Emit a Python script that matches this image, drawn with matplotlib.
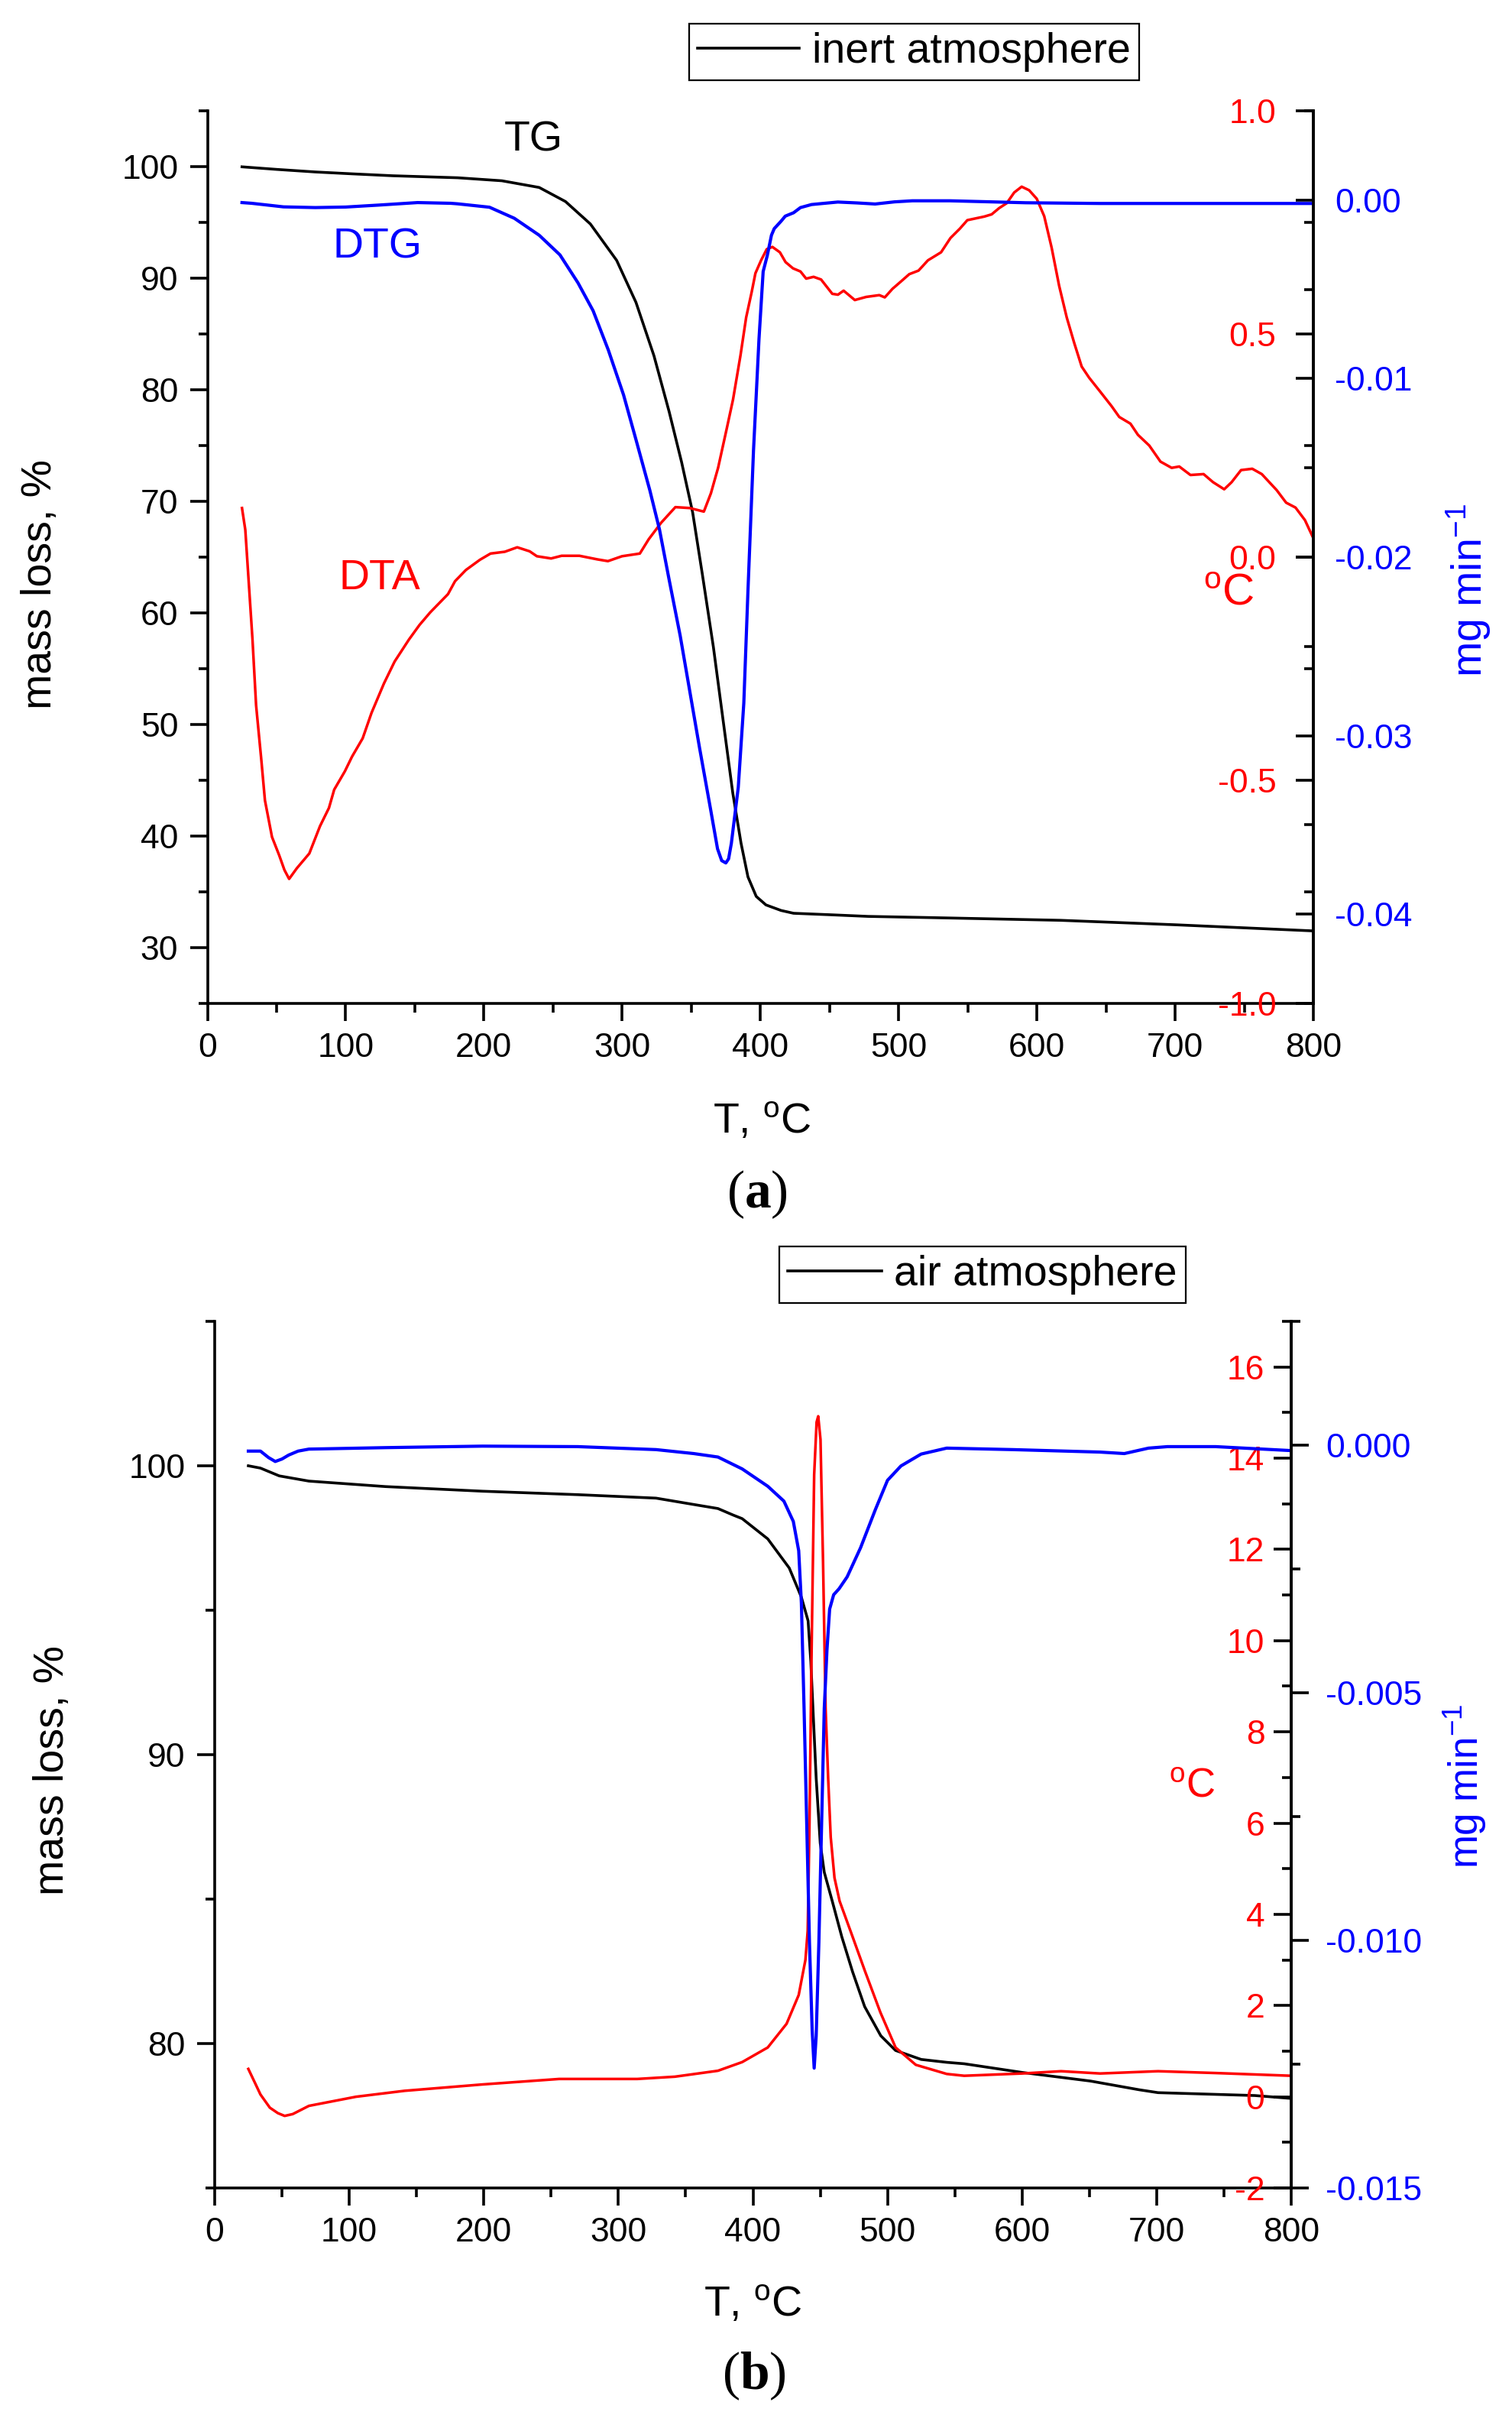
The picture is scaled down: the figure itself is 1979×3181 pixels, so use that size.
import matplotlib
matplotlib.use('Agg')
import matplotlib.pyplot as plt
from matplotlib.ticker import MultipleLocator, FixedLocator, FormatStrFormatter
from matplotlib.lines import Line2D

plt.rcParams['font.family'] = ['Liberation Sans', 'DejaVu Sans']
plt.rcParams['mathtext.fontset'] = 'custom'
plt.rcParams['mathtext.rm'] = 'Liberation Sans'
plt.rcParams['mathtext.it'] = 'Liberation Sans:italic'
plt.rcParams['mathtext.bf'] = 'Liberation Serif:bold'

# ---- panel (a): inert atmosphere ----
temp_tg_a = [25, 50, 78, 105, 134, 160, 181, 213, 240, 259, 277, 296, 310, 323, 334, 343, 351, 358,
             366, 373, 380, 386, 391, 397, 404, 415, 424, 450, 478, 520, 617, 700, 800]
tg_a = [99.98, 99.75, 99.52, 99.35, 99.18, 99.08, 99.0, 98.73, 98.13, 96.87, 94.86, 91.6, 87.83,
        83.05, 78.03, 73.51, 69.0, 63.47, 56.94, 50.4, 43.88, 39.36, 36.34, 34.59, 33.83, 33.33,
        33.08, 32.95, 32.8, 32.7, 32.45, 32.05, 31.5]

temp_dtg_a = [25, 32, 55, 78, 100, 124, 152, 176, 181, 204, 222, 240, 255, 268, 279, 290, 301, 310,
              320, 327, 334, 342, 349, 356, 364, 369, 372, 375, 377, 379, 384, 388, 391, 395, 399,
              402, 405, 408, 410, 415, 418, 424, 429, 437, 445, 456, 470, 483, 497, 510, 537, 592,
              646, 800]
dtg_a = [-0.00014, -0.00018, -0.00038, -0.00042, -0.00039, -0.00028, -0.00014, -0.00018, -0.00021,
         -0.0004, -0.00102, -0.00197, -0.00307, -0.00463, -0.0062, -0.0084, -0.01091, -0.01342,
         -0.01625, -0.01845, -0.02127, -0.02441, -0.02755, -0.03069, -0.03414, -0.03634, -0.0370,
         -0.03713, -0.0369, -0.03603, -0.03289, -0.02818, -0.0219, -0.01405, -0.00777, -0.004,
         -0.0031, -0.00197, -0.0016, -0.00118, -0.0009, -0.00071, -0.00042, -0.00025, -0.00019,
         -0.00011, -0.00016, -0.00022, -0.0001, -0.00004, -0.00004, -0.00015, -0.00019, -0.00019]

temp_dta_a = [25, 27.4, 30, 32.6, 35.2, 39, 41.6, 46.7, 51.9, 55.7, 59.1, 64.7, 73.7, 81.4, 87.9, 91.7,
              99.4, 104.6, 112.3, 118.7, 127.7, 135.4, 145.7, 153.4, 161.1, 174, 179.1, 186.9, 197.1,
              204.8, 215.1, 224.1, 233.1, 238.3, 248.6, 256.2, 269.1, 282, 289.7, 299.9, 312.8, 319.2,
              328.2, 338.5, 348.8, 359.1, 364.2, 369.4, 375.8, 380.2, 385.6, 389.7, 393.7, 396.4,
              400.5, 404.6, 408.7, 414.1, 418.2, 423.6, 429, 433.1, 438.5, 443.9, 452, 456.1, 460.2,
              468.3, 476.5, 486, 490, 495.5, 502.2, 507.7, 514.4, 521.2, 530.7, 537.5, 544.3, 549.7,
              561.9, 567.3, 572.7, 578.2, 583.6, 589, 594.4, 599.9, 605.3, 610.7, 616.1, 621.6, 627,
              632.4, 637.8, 646, 654.1, 659.6, 667.7, 673.1, 681.3, 689.4, 697.5, 703, 711.1, 720.6,
              727.4, 735.5, 740.9, 747.7, 755.8, 762.7, 773.5, 780.3, 787.1, 793.9, 799.3]
dta_a = [0.110, 0.061, -0.062, -0.185, -0.332, -0.455, -0.545, -0.627, -0.668, -0.701, -0.721, -0.697,
         -0.664, -0.603, -0.562, -0.521, -0.480, -0.447, -0.406, -0.349, -0.283, -0.234, -0.185,
         -0.152, -0.124, -0.083, -0.054, -0.029, -0.006, 0.008, 0.012, 0.022, 0.013, 0.002, -0.003,
         0.003, 0.003, -0.005, -0.009, 0.002, 0.008, 0.040, 0.077, 0.112, 0.110, 0.102, 0.143, 0.200,
         0.290, 0.353, 0.452, 0.537, 0.594, 0.636, 0.665, 0.690, 0.695, 0.683, 0.661, 0.647, 0.640,
         0.624, 0.628, 0.622, 0.590, 0.588, 0.597, 0.576, 0.583, 0.587, 0.582, 0.601, 0.619, 0.634,
         0.642, 0.665, 0.683, 0.715, 0.736, 0.755, 0.763, 0.768, 0.782, 0.793, 0.817, 0.830, 0.822,
         0.803, 0.764, 0.693, 0.608, 0.537, 0.480, 0.427, 0.402, 0.370, 0.338, 0.314, 0.299, 0.274,
         0.250, 0.214, 0.200, 0.203, 0.184, 0.186, 0.168, 0.152, 0.168, 0.195, 0.198, 0.186, 0.150,
         0.122, 0.111, 0.083, 0.047]

# ---- panel (b): air atmosphere ----
temp_tg_b = [25, 34, 48, 70, 127, 199, 270, 328, 356, 374, 385, 392, 411, 427, 436, 441, 443, 445, 447,
             450, 453, 459, 466, 474, 483, 495, 506, 525, 544, 557, 600, 651, 687, 701, 773, 800]
tg_b = [100.0, 99.92, 99.65, 99.47, 99.28, 99.12, 99.0, 98.88, 98.66, 98.52, 98.3, 98.17, 97.47, 96.46,
        95.45, 94.63, 93.23, 91.19, 89.18, 86.94, 85.93, 84.92, 83.7, 82.49, 81.28, 80.27, 79.76,
        79.45, 79.35, 79.3, 79.0, 78.7, 78.4, 78.3, 78.2, 78.1]

temp_dtg_b = [25, 34, 40, 45, 50, 55, 62, 70, 127, 199, 270, 328, 356, 374, 392, 411, 423, 430, 434,
              436, 438, 440, 442, 444, 445.5, 447, 449, 451, 453, 455, 457, 460, 464, 470, 480, 491,
              500, 510, 525, 544, 593, 658, 676, 694, 708, 744, 800]
dtg_b = [-0.00012, -0.00012, -0.00025, -0.00033, -0.00028, -0.0002, -0.00012, -0.00008, -0.00005,
         -0.00002, -0.00003, -0.00009, -0.00017, -0.00024, -0.00048, -0.00083, -0.00113, -0.00154,
         -0.00213, -0.00319, -0.00532, -0.00768, -0.01004, -0.01181, -0.01258, -0.01193, -0.01004,
         -0.00768, -0.00532, -0.00414, -0.00331, -0.00302, -0.0029, -0.00266, -0.00207, -0.0013,
         -0.00071, -0.00042, -0.00018, -0.00006, -0.00009, -0.00014, -0.00017, -0.00006, -0.00003,
         -0.00003, -0.00011]

temp_dta_b = [25, 30, 34, 41, 47, 52, 58, 70, 91, 105, 141, 199, 256, 314, 342, 374, 392, 411, 425,
              434, 439, 440.7, 442, 443.6, 445.5, 447.3, 448.5, 450.2, 452.1, 454, 455.9, 457.8,
              460.6, 464.4, 473.9, 483.3, 494.7, 506, 521, 544, 557, 600, 629, 658, 701, 744, 800]
dta_b = [0.61, 0.3, 0.05, -0.24, -0.36, -0.42, -0.38, -0.2, -0.08, 0.0, 0.13, 0.27, 0.39, 0.39, 0.44,
         0.57, 0.76, 1.08, 1.6, 2.23, 3.0, 3.64, 5.95, 9.8, 13.64, 14.79, 14.92, 14.41, 11.72, 8.51,
         6.98, 5.69, 4.80, 4.29, 3.52, 2.75, 1.85, 1.08, 0.70, 0.50, 0.46, 0.51, 0.56, 0.51, 0.56,
         0.52, 0.46]

W, H = 1979, 3181
fig = plt.figure(figsize=(W / 100, H / 100), dpi=100)
LW_AX = 2.6


def rect_px(left, top, right, bottom):
    return [left / W, 1 - bottom / H, (right - left) / W, (bottom - top) / H]


def text_px(x, y, s, **kw):
    fig.text(x / W, 1 - y / H, s, ha='center', va='center', **kw)


def make_panel(rect, ylim, yticks, rlim, rticks, rminor, rfmt, rpad, blim, bticks, bminor, bfmt,
               bdir, bpad):
    ax = fig.add_axes(rect)
    ax_r = ax.twinx()
    ax_b = ax.twinx()
    for a in (ax, ax_r, ax_b):
        a.set_xlim(0, 800)
        a.spines['top'].set_visible(False)
        for s in a.spines.values():
            s.set_linewidth(LW_AX)
    for a in (ax_r, ax_b):
        a.spines['left'].set_visible(False)
        a.spines['bottom'].set_visible(False)
    ax.spines['right'].set_visible(False)

    ax.xaxis.set_major_locator(MultipleLocator(100))
    ax.xaxis.set_minor_locator(MultipleLocator(50))
    ax.set_ylim(*ylim)
    ax.yaxis.set_major_locator(FixedLocator(yticks))
    ax.yaxis.set_minor_locator(MultipleLocator(5))
    ax.tick_params(which='major', direction='out', length=16.5, width=LW_AX, labelsize=32, pad=11)
    ax.tick_params(which='minor', direction='out', length=8.5, width=LW_AX)

    ax_r.set_ylim(*rlim)
    ax_r.yaxis.set_major_locator(FixedLocator(rticks))
    ax_r.yaxis.set_minor_locator(MultipleLocator(rminor))
    ax_r.yaxis.set_major_formatter(FormatStrFormatter(rfmt))
    ax_r.tick_params(axis='y', which='major', direction='in', length=16.5, width=LW_AX,
                     labelsize=32, labelcolor='#ff0000', pad=rpad)
    ax_r.tick_params(axis='y', which='minor', direction='in', length=8.5, width=LW_AX)
    for lab in ax_r.get_yticklabels():
        lab.set_horizontalalignment('right')

    ax_b.set_ylim(*blim)
    ax_b.yaxis.set_major_locator(FixedLocator(bticks))
    ax_b.yaxis.set_minor_locator(MultipleLocator(bminor))
    ax_b.yaxis.set_major_formatter(FormatStrFormatter(bfmt))
    ax_b.tick_params(axis='y', which='major', direction=bdir, length=16.5, width=LW_AX,
                     labelsize=32, labelcolor='#0000ff', pad=bpad)
    ax_b.tick_params(axis='y', which='minor', direction=bdir, length=8.5, width=LW_AX)
    return ax, ax_r, ax_b


def add_legend(ax, label, cx, cy, handlelength):
    leg = ax.legend(handles=[Line2D([], [], color='black', lw=2.6)], labels=[label],
                    loc='center', bbox_to_anchor=(cx / W, 1 - cy / H), bbox_transform=fig.transFigure,
                    fontsize=40, frameon=True, fancybox=False, edgecolor='black', framealpha=1,
                    handlelength=handlelength, handletextpad=0.3, borderpad=0.2)
    leg.get_frame().set_linewidth(1.6)


# panel (a)
ax, ax_r, ax_b = make_panel(rect_px(271.5, 145, 1719, 1313), (25, 105), [30, 40, 50, 60, 70, 80, 90, 100],
                            (-1, 1), [-1, -0.5, 0, 0.5, 1], 0.25, '%.1f', -35,
                            (-0.045, 0.005), [-0.04, -0.03, -0.02, -0.01, 0.0], 0.005, '%.2f', 'in', 20)
ax.plot(temp_tg_a, tg_a, color='black', lw=2.6)
ax_r.plot(temp_dta_a, dta_a, color='#ff0000', lw=2.5)
ax_b.plot(temp_dtg_a, dtg_a, color='#0000ff', lw=3.0)
add_legend(ax, 'inert atmosphere', 1196.5, 68, 2.4)

text_px(698, 184, 'TG', fontsize=40, color='black')
text_px(494, 323, 'DTG', fontsize=40, color='#0000ff')
text_px(497, 757, 'DTA', fontsize=40, color='#ff0000')
text_px(53, 765, 'mass loss, %', fontsize=40, rotation=90)
text_px(997, 1469, r'T, $^{\mathrm{o}}$C', fontsize=40)
text_px(1608, 776, r'$^{\mathrm{o}}$C', fontsize=42, color='#ff0000')
text_px(1922, 773, r'mg min$^{\mathrm{-1}}$', fontsize=40, color='#0000ff', rotation=90)
text_px(991, 1563, r'($\mathbf{a}$)', fontsize=50, family='Liberation Serif')

# panel (b)
ax, ax_r, ax_b = make_panel(rect_px(281, 1729, 1690, 2863), (75, 105), [80, 90, 100],
                            (-2, 17), list(range(-2, 17, 2)), 1, '%d', -25,
                            (-0.015, 0.0025), [-0.015, -0.01, -0.005, 0.0], 0.0025, '%.3f', 'out', 16)
ax.plot(temp_tg_b, tg_b, color='black', lw=2.6)
ax_r.plot(temp_dta_b, dta_b, color='#ff0000', lw=2.5)
ax_b.plot(temp_dtg_b, dtg_b, color='#0000ff', lw=3.0)
add_legend(ax, 'air atmosphere', 1286, 1668, 2.2)

text_px(69, 2316, 'mass loss, %', fontsize=40, rotation=90)
text_px(985, 3017, r'T, $^{\mathrm{o}}$C', fontsize=40)
text_px(1560, 2337, r'$^{\mathrm{o}}$C', fontsize=38, color='#ff0000')
text_px(1918, 2337, r'mg min$^{\mathrm{-1}}$', fontsize=38, color='#0000ff', rotation=90)
text_px(987, 3109, r'($\mathbf{b}$)', fontsize=50, family='Liberation Serif')

fig.savefig('out.png', dpi=100)
